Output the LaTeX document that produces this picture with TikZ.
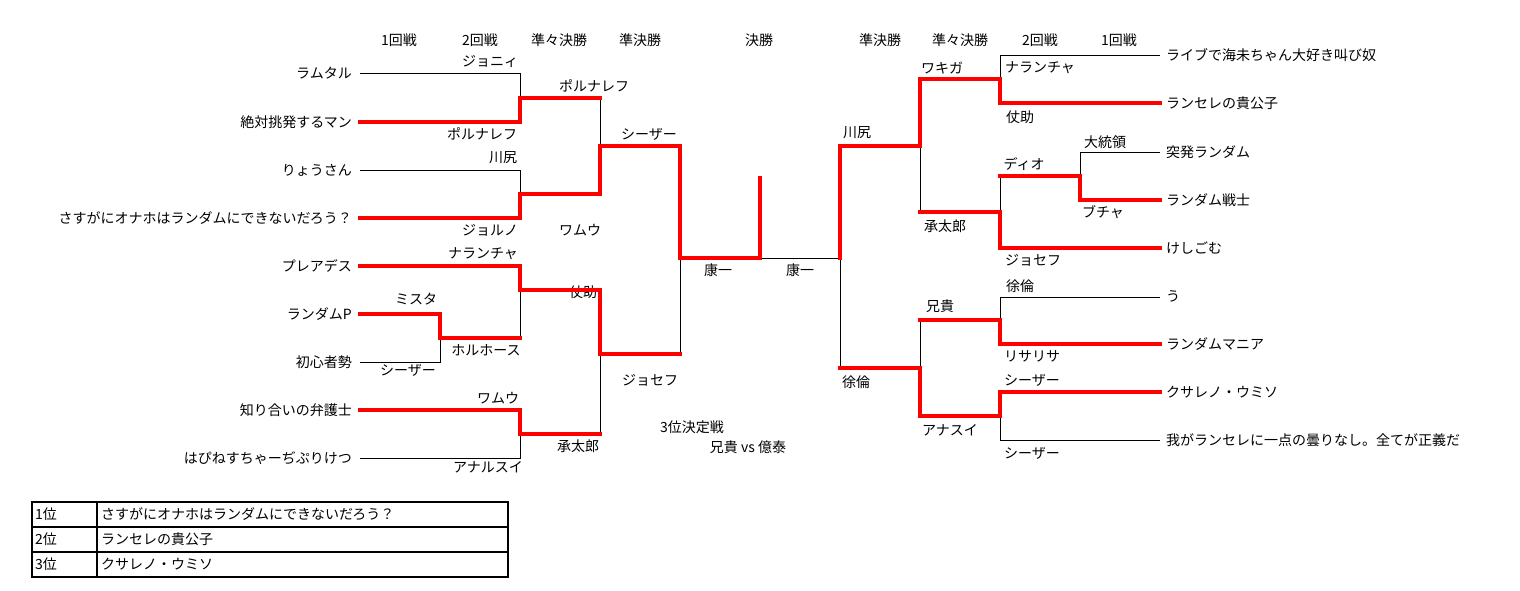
\documentclass[tikz,border=0pt]{standalone}
\usepackage{fontspec}
\setmainfont{Noto Sans CJK JP}
\begin{document}
\begin{tikzpicture}[x=1pt,y=-1pt,
 thin line/.style={draw=black,line width=0.8pt},
 win/.style={draw=red,line width=4pt,line join=miter,line cap=rect},
 lbl/.style={font=\fontsize{14}{16}\selectfont,inner sep=0pt},
 lname/.style={lbl,anchor=east},
 rname/.style={lbl,anchor=west}]
\useasboundingbox (0,0) rectangle (1520,591);
% headers
\foreach \x/\t [count=\i] in {399/1回戦,480/2回戦,559/準々決勝,640/準決勝,759/決勝,880/準決勝,960/準々決勝,1040/2回戦,1119/1回戦}
  \node[lbl] (h\i) at (\x,40) {\t};
% left names
\foreach \y/\t [count=\i] in {73/ラムタル,122/絶対挑発するマン,170/りょうさん,218/さすがにオナホはランダムにできないだろう？,266/プレアデス,314/ランダムP,362/初心者勢,410/知り合いの弁護士,458/はぴねすちゃーぢぷりけつ}
  \node[lname] (l\i) at (352,\y) {\t};
% right names
\foreach \y/\t [count=\i] in {55/ライブで海未ちゃん大好き叫び奴,103/ランセレの貴公子,152/突発ランダム,200/ランダム戦士,248/けしごむ,296/う,344/ランダムマニア,392/クサレノ・ウミソ,440/我がランセレに一点の曇りなし。全てが正義だ}
  \node[rname] (r\i) at (1166,\y) {\t};
% left labels
\foreach \x/\y/\t [count=\i] in {490/61/ジョニィ,482/134/ポルナレフ,594/86/ポルナレフ,503/158/川尻,490/230/ジョルノ,649/134/シーザー,580/230/ワムウ,483/254/ナランチャ,416/299/ミスタ,486/350/ホルホース,408/370/シーザー,583/292/仗助,650/380/ジョセフ,498/398/ワムウ,488/467/アナルスイ,578/446/承太郎,718/270/康一,800/270/康一,692/427/3位決定戦,748/447/兄貴 vs 億泰}
  \node[lbl] (a\i) at (\x,\y) {\t};
% right labels
\foreach \x/\y/\t [count=\i] in {942/68/ワキガ,1040/68/ナランチャ,1020/117/仗助,1105/142/大統領,1024/164/ディオ,1103/212/ブチャ,857/133/川尻,945/226/承太郎,1033/260/ジョセフ,1020/286/徐倫,940/306/兄貴,1032/356/リサリサ,1032/380/シーザー,856/382/徐倫,950/430/アナスイ,1032/453/シーザー}
  \node[lbl] (b\i) at (\x,\y) {\t};
% thin lines
\draw[thin line] (360,73)--(520,73)--(520,98);
\draw[thin line] (360,170)--(520,170)--(520,194);
\draw[thin line] (600,98)--(600,146);
\draw[thin line] (360,362)--(440,362)--(440,338);
\draw[thin line] (520,338)--(520,290);
\draw[thin line] (360,458)--(520,458)--(520,434);
\draw[thin line] (600,434)--(600,354);
\draw[thin line] (680,354)--(680,258);
\draw[thin line] (760,258)--(840,258)--(840,368);
\draw[thin line] (1160,55)--(1000,55)--(1000,79);
\draw[thin line] (1160,152)--(1080,152)--(1080,176);
\draw[thin line] (1000,176)--(1000,212);
\draw[thin line] (920,146)--(920,212);
\draw[thin line] (1160,297)--(1000,297)--(1000,320);
\draw[thin line] (920,320)--(920,368);
\draw[thin line] (1160,440)--(1000,440)--(1000,416);
% winners
\draw[win] (360,122)--(520,122)--(520,98)--(600,98);
\draw[win] (360,218)--(520,218)--(520,194)--(600,194)--(600,146)--(680,146)--(680,258)--(760,258)--(760,178);
\draw[win] (360,266)--(520,266)--(520,290)--(600,290)--(600,354)--(680,354);
\draw[win] (360,314)--(440,314)--(440,338)--(520,338);
\draw[win] (360,410)--(520,410)--(520,434)--(600,434);
\draw[win] (1160,103)--(1000,103)--(1000,79)--(920,79)--(920,146)--(840,146)--(840,258);
\draw[win] (1160,200)--(1080,200)--(1080,176)--(1000,176);
\draw[win] (1160,248)--(1000,248)--(1000,212)--(920,212);
\draw[win] (1160,344)--(1000,344)--(1000,320)--(920,320);
\draw[win] (1160,392)--(1000,392)--(1000,416)--(920,416)--(920,368)--(840,368);
% table
\draw[line width=2pt] (32,502) rectangle (508,577);
\draw[line width=1.2pt] (32,527)--(508,527) (32,552)--(508,552) (97,502)--(97,577);
\foreach \y/\p/\t [count=\i] in {514.5/1位/さすがにオナホはランダムにできないだろう？,539.5/2位/ランセレの貴公子,564.5/3位/クサレノ・ウミソ}{
  \node[lbl,anchor=west] (tp\i) at (35,\y) {\p};
  \node[lbl,anchor=west] (tn\i) at (101,\y) {\t};}
\end{tikzpicture}
\end{document}
